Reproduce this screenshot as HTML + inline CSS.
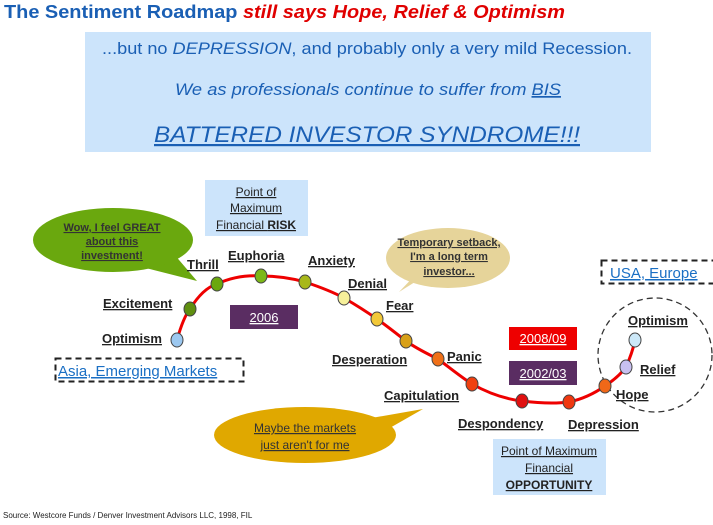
<!DOCTYPE html>
<html><head><style>
body{margin:0;background:#fff;}
svg{display:block;font-family:"Liberation Sans",Arial,sans-serif;}
.l{font-weight:bold;font-size:13px;fill:#222;text-decoration:underline;}
</style></head><body>
<svg width="713" height="525" viewBox="0 0 713 525" xmlns="http://www.w3.org/2000/svg">
<text x="4" y="18" font-size="18" font-weight="bold" fill="#1a5fb4" textLength="561" lengthAdjust="spacingAndGlyphs">The Sentiment Roadmap <tspan fill="#e00000" font-style="italic">still says Hope, Relief &amp; Optimism</tspan></text>
<rect x="85" y="32" width="566" height="120" fill="#cce4fb"/>
<g fill="#1a5fb4">
<text x="102" y="54" font-size="17" textLength="530" lengthAdjust="spacingAndGlyphs">...but no <tspan font-style="italic">DEPRESSION</tspan>, and probably only a very mild Recession.</text>
<text x="175" y="95" font-size="17" font-style="italic" textLength="386" lengthAdjust="spacingAndGlyphs">We as professionals continue to suffer from <tspan text-decoration="underline">BIS</tspan></text>
<text x="154" y="142" font-size="22" font-style="italic" text-decoration="underline" textLength="426" lengthAdjust="spacingAndGlyphs">BATTERED INVESTOR SYNDROME!!!</text>
</g>
<rect x="205" y="180" width="103" height="56" fill="#cce4fb"/>
<g font-size="12" fill="#222" text-anchor="middle" text-decoration="underline">
<text x="256" y="196">Point of</text><text x="256" y="212">Maximum</text><text x="256" y="229">Financial <tspan font-weight="bold">RISK</tspan></text>
</g>
<rect x="493" y="439" width="113" height="56" fill="#cce4fb"/>
<g font-size="12" fill="#222" text-anchor="middle" text-decoration="underline">
<text x="549" y="455">Point of Maximum</text><text x="549" y="472">Financial</text><text x="549" y="489" font-weight="bold">OPPORTUNITY</text>
</g>
<path d="M35,240 L197,281 L150,226 Z" fill="#6aa80e"/>
<ellipse cx="113" cy="240" rx="80" ry="32" fill="#6aa80e"/>
<g font-size="11" font-weight="bold" fill="#333" text-anchor="middle" text-decoration="underline">
<text x="112" y="231">Wow, I feel GREAT</text><text x="112" y="245">about this</text><text x="112" y="259">investment!</text>
</g>
<path d="M420,270 L399,292 L450,260 Z" fill="#e6d49a"/>
<ellipse cx="448" cy="258" rx="62" ry="30" fill="#e6d49a"/>
<g font-size="11" font-weight="bold" fill="#333" text-anchor="middle" text-decoration="underline">
<text x="449" y="246">Temporary setback,</text><text x="449" y="260">I'm a long term</text><text x="449" y="275">investor...</text>
</g>
<path d="M360,420 L423,409 L360,445 Z" fill="#e0a800"/>
<ellipse cx="305" cy="435" rx="91" ry="28" fill="#e0a800"/>
<g font-size="12" fill="#333" text-anchor="middle" text-decoration="underline">
<text x="305" y="432">Maybe the markets</text><text x="305" y="449">just aren't for me</text>
</g>
<rect x="55.5" y="358.5" width="188" height="23" fill="none" stroke="#222" stroke-width="2" stroke-dasharray="6,4"/>
<text x="58" y="376" font-size="15" fill="#1a6fc4" text-decoration="underline">Asia, Emerging Markets</text>
<rect x="601.5" y="260.5" width="115" height="23" fill="none" stroke="#222" stroke-width="2" stroke-dasharray="6,4"/>
<text x="610" y="278" font-size="15" fill="#1a6fc4" text-decoration="underline">USA, Europe</text>
<ellipse cx="655" cy="355" rx="57" ry="57" fill="none" stroke="#333" stroke-width="1.3" stroke-dasharray="6,4"/>
<rect x="230" y="305" width="68" height="24" fill="#5a2d62"/>
<text x="264" y="322" font-size="13" fill="#fff" text-anchor="middle" text-decoration="underline">2006</text>
<rect x="509" y="327" width="68" height="23" fill="#ee0000"/>
<text x="543" y="343" font-size="13" fill="#fff" text-anchor="middle" text-decoration="underline">2008/09</text>
<rect x="509" y="361" width="68" height="24" fill="#5a2d62"/>
<text x="543" y="378" font-size="13" fill="#fff" text-anchor="middle" text-decoration="underline">2002/03</text>
<path d="M177,340 C182,322 186,314 190,309 C198,296 207,287 217,284 C232,277 246,275 261,276 C276,276 291,278 305,282 C320,287 333,292 344,298 C356,305 367,312 377,319 C387,326 397,334 406,341 C417,349 428,354 438,359 C450,368 461,377 472,384 C488,393 505,399 522,401 C538,403 554,404 569,402 C583,399 595,393 605,386 C614,380 621,374 626,367 C630,358 633,350 635,340" fill="none" stroke="#ee0000" stroke-width="3"/>
<g stroke="#444" stroke-width="1">
<ellipse cx="177" cy="340" rx="6" ry="7" fill="#9cc8f0"/>
<ellipse cx="190" cy="309" rx="6" ry="7" fill="#5f8f10"/>
<ellipse cx="217" cy="284" rx="6" ry="7" fill="#6aa80e"/>
<ellipse cx="261" cy="276" rx="6" ry="7" fill="#7cb817"/>
<ellipse cx="305" cy="282" rx="6" ry="7" fill="#a8b81a"/>
<ellipse cx="344" cy="298" rx="6" ry="7" fill="#f6f09a"/>
<ellipse cx="377" cy="319" rx="6" ry="7" fill="#f2c838"/>
<ellipse cx="406" cy="341" rx="6" ry="7" fill="#d8a018"/>
<ellipse cx="438" cy="359" rx="6" ry="7" fill="#f07018"/>
<ellipse cx="472" cy="384" rx="6" ry="7" fill="#f04010"/>
<ellipse cx="522" cy="401" rx="6" ry="7" fill="#e01010"/>
<ellipse cx="569" cy="402" rx="6" ry="7" fill="#f03810"/>
<ellipse cx="605" cy="386" rx="6" ry="7" fill="#f06818"/>
<ellipse cx="626" cy="367" rx="6" ry="7" fill="#c8c0f0"/>
<ellipse cx="635" cy="340" rx="6" ry="7" fill="#cce8f8"/>
</g>
<text class="l" x="102" y="343">Optimism</text>
<text class="l" x="103" y="308">Excitement</text>
<text class="l" x="187" y="269">Thrill</text>
<text class="l" x="228" y="260">Euphoria</text>
<text class="l" x="308" y="265">Anxiety</text>
<text class="l" x="348" y="288">Denial</text>
<text class="l" x="386" y="310">Fear</text>
<text class="l" x="332" y="364">Desperation</text>
<text class="l" x="447" y="361">Panic</text>
<text class="l" x="384" y="400">Capitulation</text>
<text class="l" x="458" y="428">Despondency</text>
<text class="l" x="568" y="429">Depression</text>
<text class="l" x="616" y="399">Hope</text>
<text class="l" x="640" y="374">Relief</text>
<text class="l" x="628" y="325">Optimism</text>
<text x="3" y="518" font-size="8" fill="#222">Source: Westcore Funds / Denver Investment Advisors LLC, 1998, FIL</text>
</svg>
</body></html>
